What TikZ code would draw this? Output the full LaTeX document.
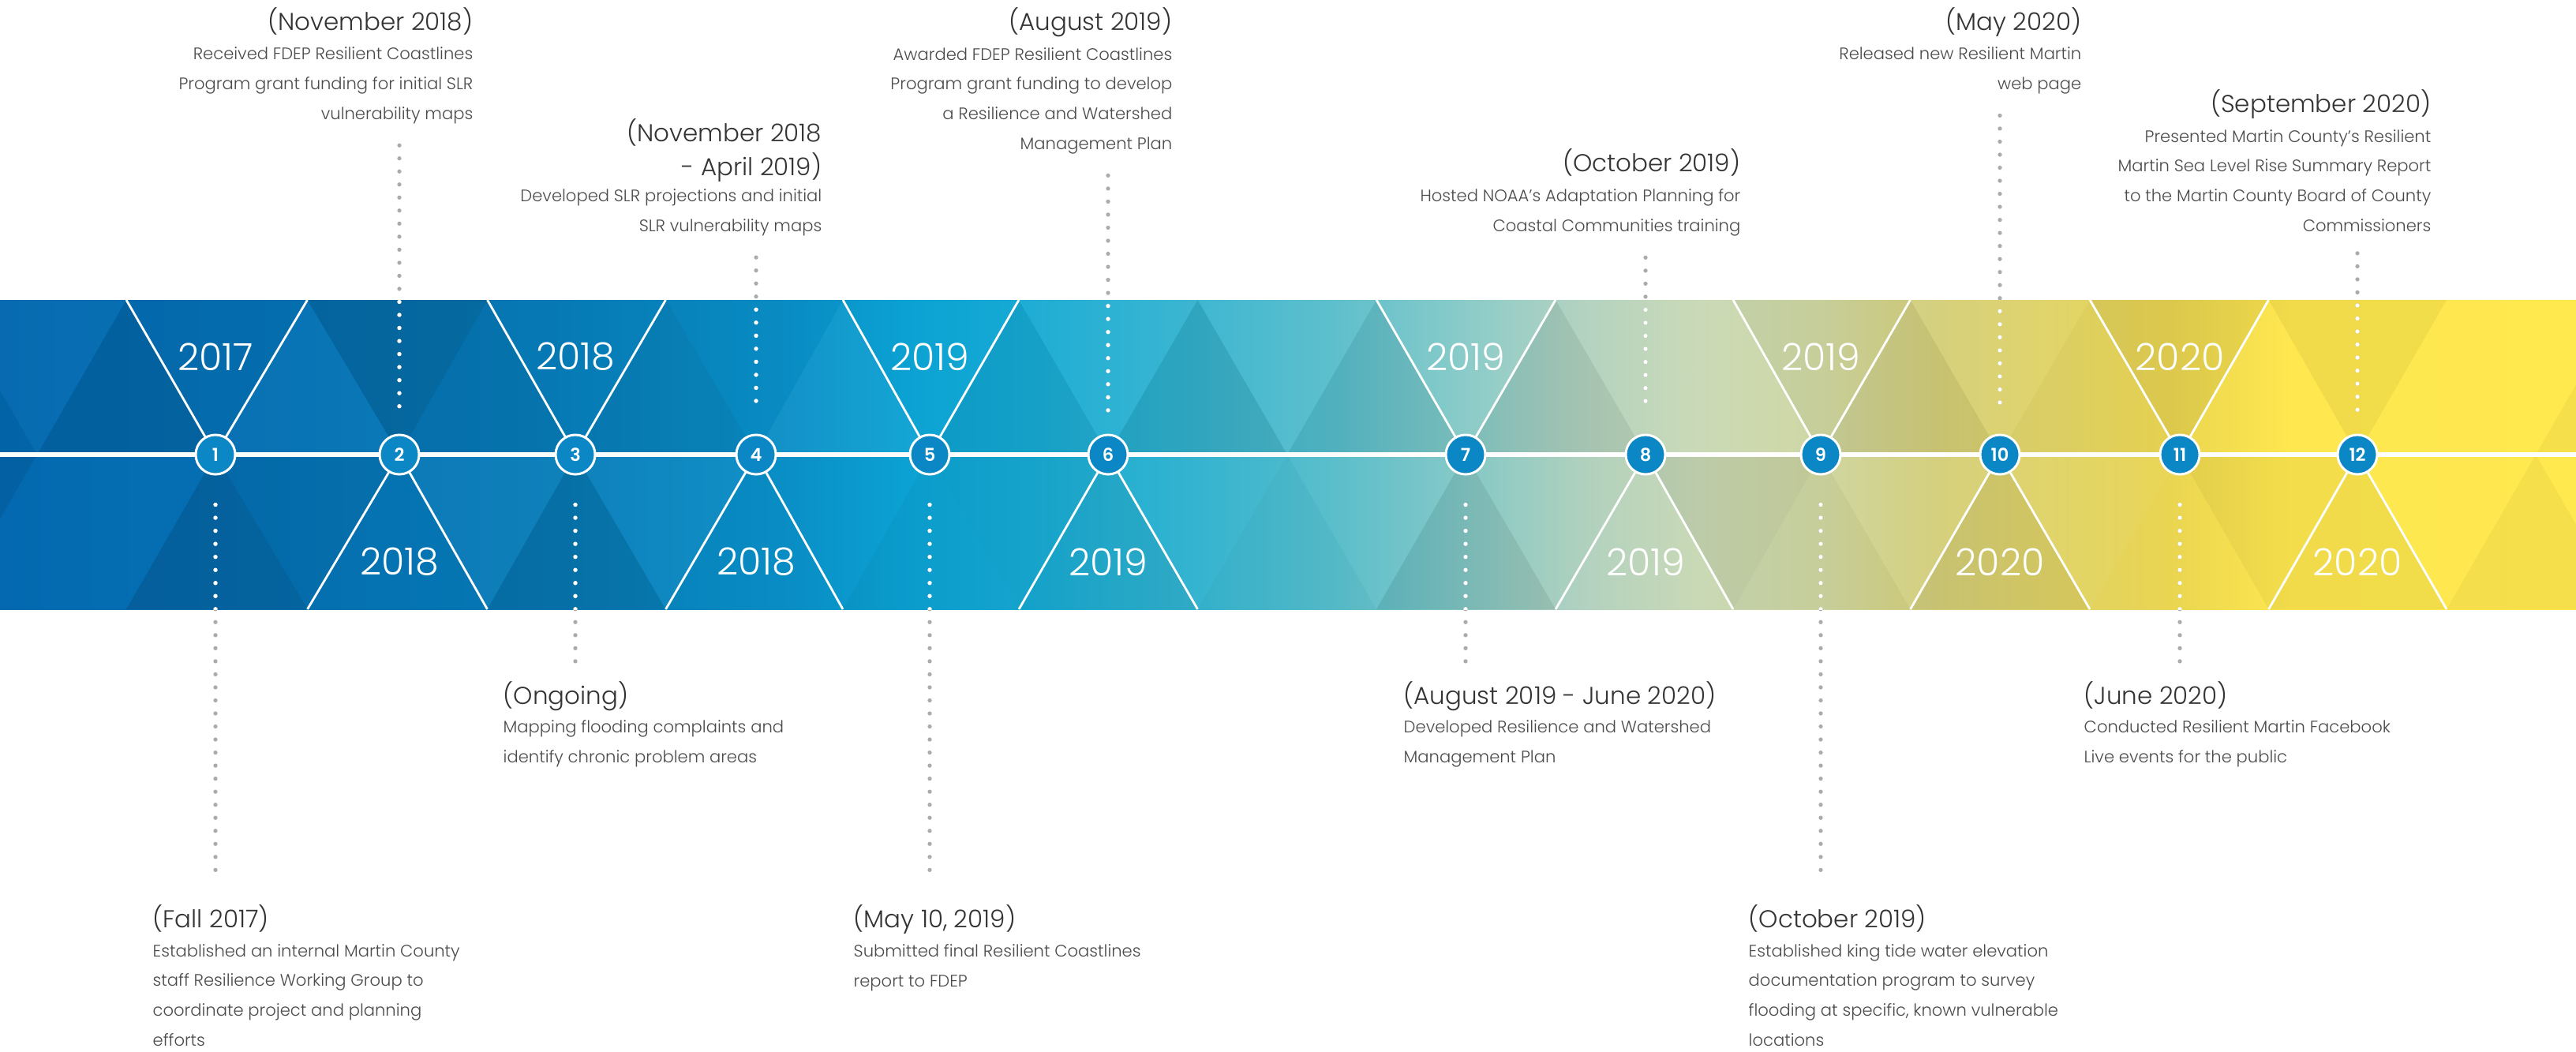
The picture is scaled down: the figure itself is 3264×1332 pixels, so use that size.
\documentclass[tikz,border=0pt]{standalone}
\usepackage{fontspec}
\setmainfont{Poppins}[UprightFont=* Light, BoldFont=* SemiBold]
\usetikzlibrary{calc}
\definecolor{nodeBlue}{HTML}{0B87C6}
\definecolor{dotGray}{HTML}{ABABAB}
\definecolor{dateGray}{HTML}{333333}
\definecolor{textGray}{HTML}{4A4A4A}
% band colours, left to right
\definecolor{g0}{HTML}{0469B0}
\definecolor{g1}{HTML}{0570B3}
\definecolor{g2}{HTML}{077CB8}
\definecolor{g3}{HTML}{0A8FC7}
\definecolor{g4}{HTML}{0BA2D3}
\definecolor{g5}{HTML}{16AAD4}
\definecolor{g6}{HTML}{32B3D0}
\definecolor{g7}{HTML}{58BDCA}
\definecolor{g8}{HTML}{82C8C6}
\definecolor{g9}{HTML}{AFD0BE}
\definecolor{g10}{HTML}{C8D8B4}
\definecolor{g11}{HTML}{CDD5A0}
\definecolor{g12}{HTML}{D4CF7A}
\definecolor{g13}{HTML}{E0D366}
\definecolor{g14}{HTML}{EAD551}
\definecolor{g15}{HTML}{FEE74F}
\definecolor{g16}{HTML}{FFE94F}

% darken (<0) or lighten (>0) one facet of the band
\newcommand{\facetfill}[2]{%
  \pgfmathsetmacro\tintop{abs(#1)}%
  \ifdim#1pt<0pt\fill[black,opacity=\tintop] #2;\else\fill[white,opacity=\tintop] #2;\fi}

\tikzset{
  every node/.style={inner sep=0pt},
  numdot/.style={circle,fill=nodeBlue,draw=white,line width=0.85pt,minimum size=0.5cm,
    text=white,font=\bfseries\fontsize{6.4}{6.4}\selectfont},
  yearlbl/.style={text=white,font=\fontsize{13.5}{13.5}\selectfont},
  facet/.style={white,line width=0.8pt},
  datetop/.style={anchor=base east,align=right,text=dateGray,font=\fontsize{8.8}{12}\selectfont},
  datebot/.style={anchor=base west,align=left,text=dateGray,font=\fontsize{8.8}{12}\selectfont},
  infotop/.style={anchor=base east,align=right,text=textGray,font=\fontsize{6}{10.67}\selectfont},
  infobot/.style={anchor=base west,align=left,text=textGray,font=\fontsize{6}{10.67}\selectfont},
  leader/.style={draw=dotGray,line width=1.5pt,line cap=round,dash pattern=on 0pt off 4.7pt}
}

\begin{document}
\begin{tikzpicture}[x=0.01cm,y=-0.01cm]
\useasboundingbox (0,0) rectangle (3264,1332);

% band of triangles
\begin{scope}
  \clip (0,380) rectangle (3264,772);
  \foreach \xa/\ca/\xb/\cb in {0/g0/320/g1,320/g1/700/g2,700/g2/1000/g3,1000/g3/1150/g4,
      1150/g4/1300/g5,1300/g5/1500/g6,1500/g6/1700/g7,1700/g7/1850/g8,1850/g8/2000/g9,
      2000/g9/2150/g10,2150/g10/2300/g11,2300/g11/2450/g12,2450/g12/2600/g13,
      2600/g13/2750/g14,2750/g14/2900/g15,2900/g15/3264/g16}
    \fill[left color=\ca,right color=\cb] (\xa,380) rectangle (\xb+2,772);
  \foreach \xl/\xm/\xr/\ta/\tb/\tc/\td in {-405/-179/47/0/0/-0.05/-0.08,
      -179/47/273/0.02/0/-0.10/0, 47/273/506/-0.03/-0.12/0.02/-0.05,
      273/506/729/-0.12/-0.02/-0.06/0.03, 506/729/958/-0.02/-0.10/-0.06/0.03,
      729/958/1178/-0.02/-0.01/0.04/0, 958/1178/1404/0/-0.03/-0.06/-0.04,
      1178/1404/1631/0.04/-0.05/-0.08/0, 1404/1631/1857/0.05/-0.02/-0.06/0.03,
      1631/1857/2085/0.06/-0.08/-0.06/0, 1857/2085/2307/0.05/0.03/0.05/-0.06,
      2085/2307/2534/-0.03/-0.03/-0.06/0.04, 2307/2534/2762/0.03/-0.06/-0.02/0.03,
      2534/2762/2987/-0.06/0/0/-0.04, 2762/2987/3213/-0.05/-0.05/0/0,
      2987/3213/3439/0/-0.04/-0.04/0, 3213/3439/3665/0/0/0/0}{
    \facetfill{\ta}{({(\xl+\xm)/2},380) -- ({(\xm+\xr)/2},380) -- (\xm,576) -- cycle}
    \facetfill{\tb}{(\xm,576) -- ({(\xl+\xm)/2},772) -- ({(\xm+\xr)/2},772) -- cycle}
    \facetfill{\tc}{(\xm,576) -- (\xr,576) -- ({(\xm+\xr)/2},380) -- cycle}
    \facetfill{\td}{(\xm,576) -- (\xr,576) -- ({(\xm+\xr)/2},772) -- cycle}
  }
\end{scope}
\draw[white,line width=1.5pt] (0,576) -- (3264,576);

% years and numbered stops
\foreach \k/\xl/\xm/\xr/\yr in {1/47/273/506/2017,2/273/506/729/2018,3/506/729/958/2018,
    4/729/958/1178/2018,5/958/1178/1404/2019,6/1178/1404/1631/2019,
    7/1631/1857/2085/2019,8/1857/2085/2307/2019,9/2085/2307/2534/2019,
    10/2307/2534/2762/2020,11/2534/2762/2987/2020,12/2762/2987/3213/2020}{
  \ifodd\k
    \draw[facet] ({(\xl+\xm)/2},380) -- (\xm,576) -- ({(\xm+\xr)/2},380);
    \node[yearlbl] at (\xm,452) {\yr};
  \else
    \draw[facet] ({(\xl+\xm)/2},772) -- (\xm,576) -- ({(\xm+\xr)/2},772);
    \node[yearlbl] at (\xm,712) {\yr};
  \fi
  \node[numdot] (c\k) at (\xm,576) {\k};
}

% above the band (base = last line)
\node[datetop] (e2date) at (600,38) {(November 2018)};
\node[infotop] (e2text) at (600,151) {Received FDEP Resilient Coastlines\\Program grant funding for initial SLR\\vulnerability maps};
\node[datetop] (e4date) at (1042,222) {(November 2018\\- April 2019)};
\node[infotop] (e4text) at (1042,293) {Developed SLR projections and initial\\SLR vulnerability maps};
\node[datetop] (e6date) at (1486,38) {(August 2019)};
\node[infotop] (e6text) at (1486,189) {Awarded FDEP Resilient Coastlines\\Program grant funding to develop\\a Resilience and Watershed\\Management Plan};
\node[datetop] (e8date) at (2206,217) {(October 2019)};
\node[infotop] (e8text) at (2206,293) {Hosted NOAA’s Adaptation Planning for\\Coastal Communities training};
\node[datetop] (e10date) at (2638,38) {(May 2020)};
\node[infotop] (e10text) at (2638,113) {Released new Resilient Martin\\web page};
\node[datetop] (e12date) at (3081,142) {(September 2020)};
\node[infotop] (e12text) at (3081,293) {Presented Martin County’s Resilient\\Martin Sea Level Rise Summary Report\\to the Martin County Board of County\\Commissioners};

% below the band
\node[datebot] (e1date) at (193,1175) {(Fall 2017)};
\node[infobot] (e1text) at (193,1325) {Established an internal Martin County\\staff Resilience Working Group to\\coordinate project and planning\\efforts};
\node[datebot] (e3date) at (637,892) {(Ongoing)};
\node[infobot] (e3text) at (637,966) {Mapping flooding complaints and\\identify chronic problem areas};
\node[datebot] (e5date) at (1081,1175) {(May 10, 2019)};
\node[infobot] (e5text) at (1081,1250) {Submitted final Resilient Coastlines\\report to FDEP};
\node[datebot] (e7date) at (1778,892) {(August 2019 - June 2020)};
\node[infobot] (e7text) at (1778,966) {Developed Resilience and Watershed\\Management Plan};
\node[datebot] (e9date) at (2215,1175) {(October 2019)};
\node[infobot] (e9text) at (2215,1325) {Established king tide water elevation\\documentation program to survey\\flooding at specific, known vulnerable\\locations};
\node[datebot] (e11date) at (2640,892) {(June 2020)};
\node[infobot] (e11text) at (2640,966) {Conducted Resilient Martin Facebook\\Live events for the public};

% dotted leaders
\foreach \c/\e in {c2/e2text,c4/e4text,c6/e6text,c8/e8text,c10/e10text,c12/e12text}{
  \draw[leader,shorten <=0.27cm,shorten >=0.29cm] (\c |- \e.south) -- (\c.north);
  \begin{scope}
    \clip (0,380) rectangle (3264,772);
    \draw[leader,draw=white,shorten <=0.27cm,shorten >=0.29cm] (\c |- \e.south) -- (\c.north);
  \end{scope}
}
\foreach \c/\e/\s in {c1/e1date/0.29cm,c3/e3date/0.21cm,c5/e5date/0.29cm,
    c7/e7date/0.21cm,c9/e9date/0.29cm,c11/e11date/0.21cm}{
  \draw[leader,shorten <=0.37cm,shorten >=\s] (\c.south) -- (\c |- \e.north);
  \begin{scope}
    \clip (0,380) rectangle (3264,772);
    \draw[leader,draw=white,shorten <=0.37cm,shorten >=\s] (\c.south) -- (\c |- \e.north);
  \end{scope}
}
\end{tikzpicture}
\end{document}
